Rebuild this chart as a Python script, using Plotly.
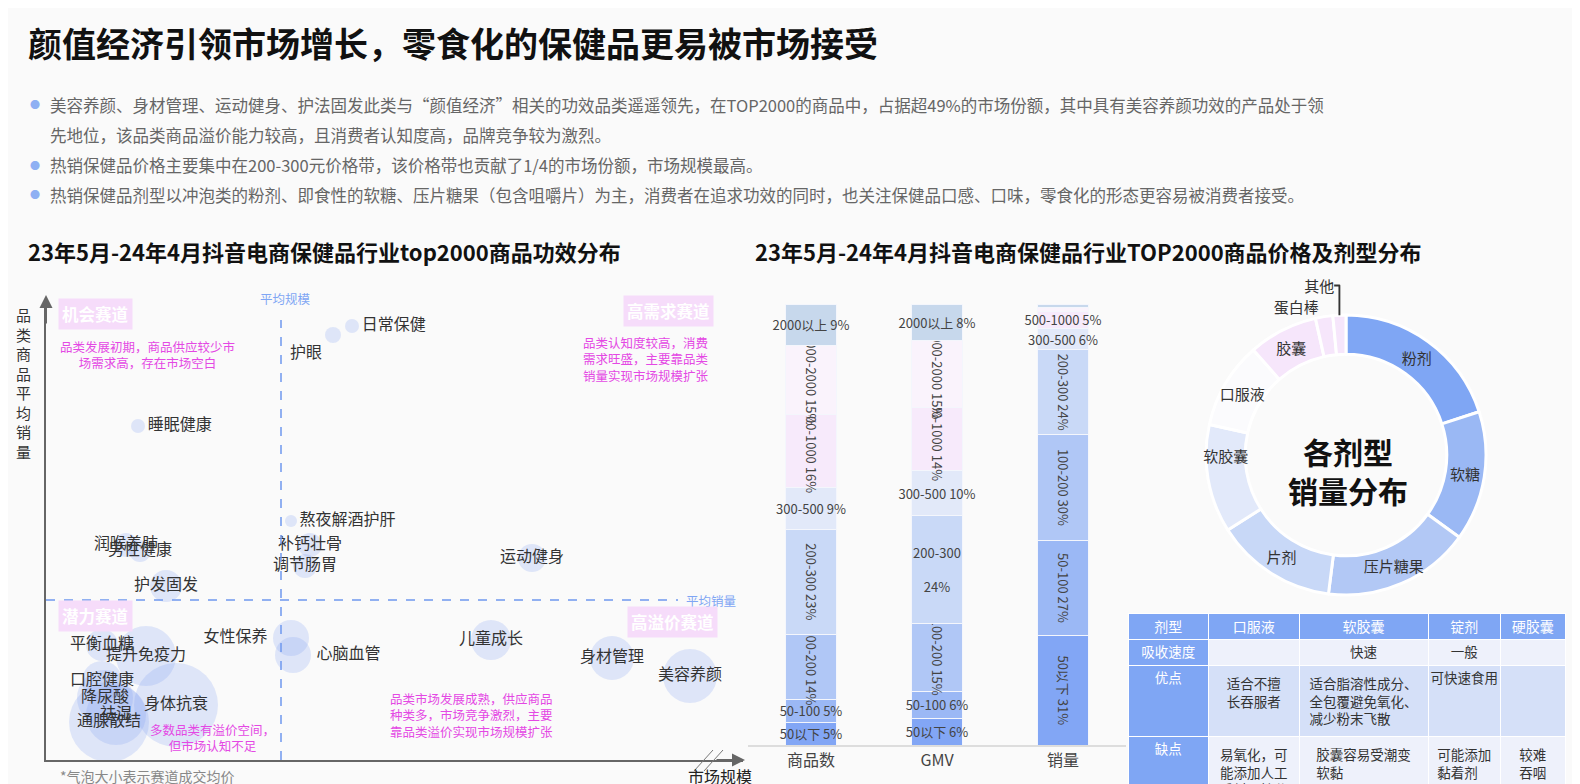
import plotly.graph_objects as go

W, H = 1580, 784
FONT = "Noto Sans CJK SC"


def px(x):
    return x / W


def py(y):
    return 1 - y / H


# ---- bubble chart data (x: 市场规模, y: 品类商品平均销量, size: 成交均价) ----
bub_names = ["日常保健", "护眼", "睡眠健康", "熬夜解酒护肝", "补钙壮骨", "调节肠胃", "润喉养肺",
             "男性健康", "护发固发", "运动健身", "女性保养", "心脑血管", "儿童成长", "身材管理",
             "美容养颜", "平衡血糖", "提升免疫力", "口腔健康", "身体抗衰", "降尿酸", "祛湿", "通腺散结"]
bub_x = [306, 287, 92, 245, 264, 259, 80, 94, 120, 486, 245, 247, 445, 566, 644, 56, 100, 56, 130, 59, 70, 63]
bub_y = [434, 425, 334, 239, 215, 194, 215, 209, 174, 202, 122, 105, 120, 102, 84, 115, 104, 79, 55, 62, 45, 38]
bub_size = [14, 16, 14, 12, 24, 24, 24, 22, 32, 28, 36, 36, 40, 44, 54, 32, 60, 40, 84, 56, 60, 80]
bub_pos = ["middle right", "bottom left", "middle right", "middle right", "middle center", "middle center",
           "middle center", "middle center", "middle center", "middle center", "middle left", "middle right",
           "middle center", "middle center", "middle center", "middle center", "middle center",
           "middle center", "middle center", "middle center", "middle center", "middle center"]
avg_scale, avg_sales = 235, 160

# ---- price bands ----
bar_cats = ["商品数", "GMV", "销量"]
bands = ["50以下", "50-100", "100-200", "200-300", "300-500", "500-1000", "1000-2000", "2000以上"]
band_vals = {
    "商品数": [5, 5, 14, 23, 9, 16, 15, 9],
    "GMV": [6, 6, 15, 24, 10, 14, 15, 8],
    "销量": [31, 27, 30, 24, 6, 5, 1, 1],
}
band_colors = ["#82a6f5", "#9bb8f5", "#b0c7f6", "#c9d9f7", "#e2e9f9", "#f7eafb", "#faf3fc", "#c7d8ec"]

# ---- dosage form donut ----
forms = ["粉剂", "软糖", "压片糖果", "片剂", "软胶囊", "口服液", "胶囊", "蛋白棒", "其他"]
form_share = [20, 15, 17, 14, 12.5, 10, 8, 2, 1.5]
form_colors = ["#7fa6f4", "#9ab8f4", "#b2c8f5", "#c8d8f7", "#e2e9fa", "#fbfbfd", "#f6e6fb", "#f6e6fb", "#f6e6fb"]

# ---- comparison table ----
tbl_header = ["剂型", "口服液", "软胶囊", "锭剂", "硬胶囊"]
tbl_cols = [
    ["吸收速度", "优点", "缺点"],
    ["", "适合不擅<br>长吞服者", "易氧化，可<br>能添加人工<br>香料、糖分"],
    ["快速", "适合脂溶性成分、<br>全包覆避免氧化、<br>减少粉末飞散", "胶囊容易受潮变<br>软黏"],
    ["一般", "可快速食用", "可能添加<br>黏着剂"],
    ["", "", "较难<br>吞咽"],
]

fig = go.Figure()

# bubbles
fig.add_trace(go.Scatter(
    x=bub_x, y=bub_y, mode="markers+text", text=bub_names, textposition=bub_pos,
    marker=dict(size=bub_size, sizemode="diameter", color="rgba(130,160,240,0.33)", line=dict(width=0)),
    textfont=dict(family=FONT, size=16, color="#333"), xaxis="x", yaxis="y", showlegend=False,
    cliponaxis=False,
))

# stacked bars
for i, b in enumerate(bands):
    vals = [band_vals[c][i] for c in bar_cats]
    txt = []
    for c, v in zip(bar_cats, vals):
        if c == "销量" and i >= 6:
            txt.append("")
        elif c == "GMV" and b == "200-300":
            txt.append(f"{b}<br><br>{v}%")
        else:
            txt.append(f"{b} {v}%")
    fig.add_trace(go.Bar(
        x=bar_cats, y=vals, text=txt, textposition="inside", insidetextanchor="middle",
        constraintext="none", marker=dict(color=band_colors[i], line=dict(color="#f4f6fc", width=1)),
        textfont=dict(family=FONT, size=13, color="#444"), width=0.4, xaxis="x2", yaxis="y2",
        showlegend=False,
    ))

# donut
fig.add_trace(go.Pie(
    labels=forms, values=form_share, hole=0.72, sort=False, direction="clockwise", rotation=0,
    marker=dict(colors=form_colors, line=dict(color="white", width=3)),
    textinfo="label", textposition=["inside"] * 7 + ["outside", "outside"],
    insidetextorientation="horizontal", textfont=dict(family=FONT, size=15, color="#333"),
    domain=dict(x=[px(1198), px(1478)], y=[py(587), py(307)]), showlegend=False,
))

# table
blue, light, mid = "#7fa6f4", "#eef1fb", "#d5e0f8"
row_fill = [light, mid, light]
fig.add_trace(go.Table(
    domain=dict(x=[px(1120), px(1557)], y=[0, py(605)]),
    columnwidth=[80, 90, 128, 72, 64],
    header=dict(values=tbl_header, fill_color=blue, line_color="white", height=26,
                font=dict(family=FONT, size=14, color="white"), align="center"),
    cells=dict(values=tbl_cols, height=26, line_color="white", align="center",
               fill_color=[[blue] * 3] + [row_fill] * 4,
               font=dict(family=FONT, size=13.5, color=[["white"] * 3] + [["#333"] * 3] * 4)),
))

ann = []


def text(x, y, s, size=16, color="#333", bold=False, xanchor="left", **kw):
    ann.append(dict(x=px(x), y=py(y), xref="paper", yref="paper", text=f"<b>{s}</b>" if bold else s,
                    showarrow=False, xanchor=xanchor, yanchor="middle",
                    font=dict(family=FONT, size=size, color=color), **kw))


text(18, 35, "颜值经济引领市场增长，零食化的保健品更易被市场接受", 34, "#111", True)
bullets = [
    (97, "美容养颜、身材管理、运动健身、护法固发此类与“颜值经济”相关的功效品类遥遥领先，在TOP2000的商品中，占据超49%的市场份额，其中具有美容养颜功效的产品处于领"),
    (127, "先地位，该品类商品溢价能力较高，且消费者认知度高，品牌竞争较为激烈。"),
    (157, "热销保健品价格主要集中在200-300元价格带，该价格带也贡献了1/4的市场份额，市场规模最高。"),
    (187, "热销保健品剂型以冲泡类的粉剂、即食性的软糖、压片糖果（包含咀嚼片）为主，消费者在追求功效的同时，也关注保健品口感、口味，零食化的形态更容易被消费者接受。"),
]
for i, (y, s) in enumerate(bullets):
    if i != 1:
        text(20, y, "●", 10, "#8fb0f3")
    text(40, y, s, 16.5, "#666")
text(18, 243, "23年5月-24年4月抖音电商保健品行业top2000商品功效分布", 22, "#111", True)
text(745, 243, "23年5月-24年4月抖音电商保健品行业TOP2000商品价格及剂型分布", 22, "#111", True)

# bubble chart annotations
text(15, 375, "<br>".join("品类商品平均销量"), 15, "#333", xanchor="center")
text(678, 768, "市场规模", 16, "#222")
text(50, 768, "*气泡大小表示赛道成交均价", 14, "#888")
text(250, 290, "平均规模", 12.5, "#7fa6f4")
text(676, 592, "平均销量", 12.5, "#7fa6f4")
for x, y, s in [(50, 306, "机会赛道"), (615, 303, "高需求赛道"), (50, 608, "潜力赛道"), (619, 614, "高溢价赛道")]:
    text(x, y, s, 16.5, "white", True, bgcolor="#f6dcfa", borderpad=3)
pink = "#e448e4"
text(50, 347, "品类发展初期，商品供应较少市<br>场需求高，存在市场空白", 12.5, pink)
text(573, 351, "品类认知度较高，消费<br>需求旺盛，主要靠品类<br>销量实现市场规模扩张", 12.5, pink)
text(380, 707, "品类市场发展成熟，供应商品<br>种类多，市场竞争激烈，主要<br>靠品类溢价实现市场规模扩张", 12.5, pink)
text(140, 729, "多数品类有溢价空间，<br>但市场认知不足", 12.5, pink)
text(1340, 462, "各剂型<br>销量分布", 30, "#111", True, xanchor="center")

# axis arrows
ann.append(dict(xref="paper", yref="paper", x=px(38), y=py(287), ax=0, ay=30,
                showarrow=True, arrowhead=2, arrowsize=1.3, arrowwidth=2, arrowcolor="#666", text=""))
ann.append(dict(xref="paper", yref="paper", x=px(737), y=py(752), ax=-30, ay=0,
                showarrow=True, arrowhead=2, arrowsize=1.3, arrowwidth=2, arrowcolor="#666", text=""))

shapes = [
    dict(type="line", xref="x", yref="y", x0=avg_scale, x1=avg_scale, y0=0, y1=440,
         line=dict(color="#6f98ee", width=1.5, dash="dash")),
    dict(type="line", xref="x", yref="y", x0=0, x1=632, y0=avg_sales, y1=avg_sales,
         line=dict(color="#6f98ee", width=1.5, dash="dash")),
    dict(type="line", xref="paper", yref="paper", x0=px(686), x1=px(705), y0=py(763), y1=py(742),
         line=dict(color="#777", width=1)),
    dict(type="line", xref="paper", yref="paper", x0=px(696), x1=px(715), y0=py(763), y1=py(742),
         line=dict(color="#777", width=1)),
]

fig.update_layout(
    width=W, height=H, margin=dict(l=0, r=0, t=0, b=0),
    paper_bgcolor="#fafafa", plot_bgcolor="#fafafa",
    font=dict(family=FONT), barmode="stack", barnorm="percent",
    uniformtext=dict(mode="show", minsize=13),
    xaxis=dict(domain=[px(38), px(735)], range=[0, 697], showline=True, linecolor="#666", linewidth=2,
               showgrid=False, zeroline=False, showticklabels=False, ticks=""),
    yaxis=dict(domain=[py(752), py(295)], range=[0, 457], showline=True, linecolor="#666", linewidth=2,
               showgrid=False, zeroline=False, showticklabels=False, ticks=""),
    xaxis2=dict(domain=[px(740), px(1118)], anchor="y2", showline=True, linecolor="#ddd", linewidth=2,
                showgrid=False, tickfont=dict(family=FONT, size=16, color="#444"), ticks=""),
    yaxis2=dict(domain=[py(737), py(296)], range=[0, 100], visible=False),
    annotations=ann, shapes=shapes,
)

fig.write_html("out.html")
